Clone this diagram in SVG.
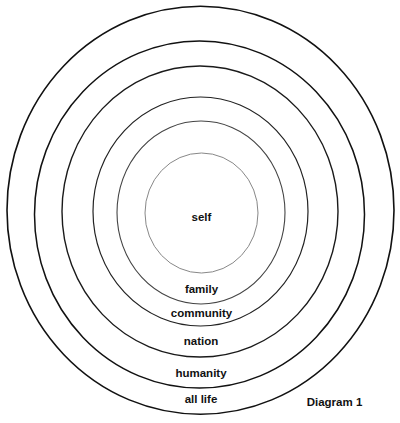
<svg xmlns="http://www.w3.org/2000/svg" width="400" height="423" viewBox="0 0 400 423">
<style>
.ring{fill:none}
.lbl{font-family:"Liberation Sans",Arial,sans-serif;font-weight:bold;font-size:11.5px;fill:#111;text-anchor:middle}
</style>
<rect width="400" height="423" fill="#fff"/>
<g id="all-life"><ellipse class="ring" cx="200.5" cy="210.2" rx="193.5" ry="204" stroke="#111" stroke-width="1.6"/><text class="lbl" x="201" y="403">all life</text></g>
<g id="humanity"><ellipse class="ring" cx="199.5" cy="214.5" rx="165" ry="173.5" stroke="#111" stroke-width="1.5"/><text class="lbl" x="201" y="377">humanity</text></g>
<g id="nation"><ellipse class="ring" cx="200" cy="211.5" rx="138" ry="145.5" stroke="#1a1a1a" stroke-width="1.4"/><text class="lbl" x="201" y="345">nation</text></g>
<g id="community"><ellipse class="ring" cx="200.5" cy="211.5" rx="107.5" ry="114.5" stroke="#222" stroke-width="1.2"/><text class="lbl" x="201.5" y="317">community</text></g>
<g id="family"><ellipse class="ring" cx="201" cy="212.5" rx="84" ry="91.5" stroke="#444" stroke-width="1.1"/><text class="lbl" x="201.5" y="293">family</text></g>
<g id="self"><ellipse class="ring" cx="201.5" cy="213" rx="56.5" ry="60" stroke="#888" stroke-width="1"/><text class="lbl" x="201.5" y="221">self</text></g>
<g id="caption"><text class="lbl" x="334.5" y="406">Diagram 1</text></g>
<g id="connectors"/>
</svg>
